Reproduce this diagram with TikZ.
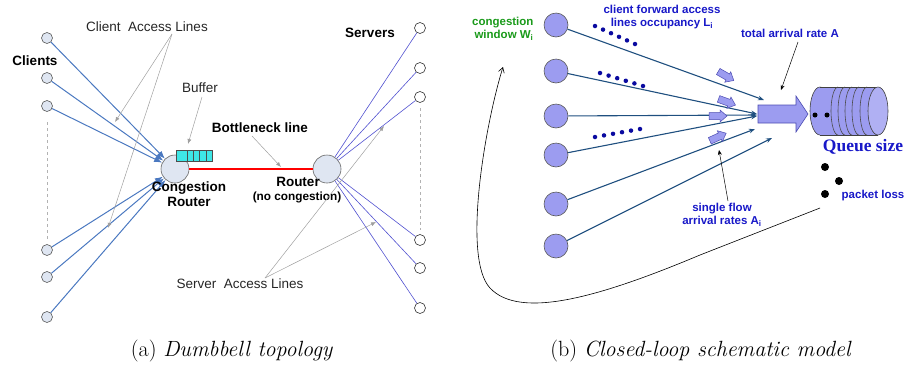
\documentclass[tikz,border=0pt]{standalone}
\usepackage{fontspec}
\newfontfamily\arialf{Liberation Sans}
\newfontfamily\timesf{Liberation Serif}
\usetikzlibrary{arrows.meta}
\definecolor{nodefill}{HTML}{DFE6F2}
\definecolor{clinecol}{HTML}{4A78C0}
\definecolor{slinecol}{HTML}{5050D0}
\definecolor{flinecol}{HTML}{1F4F7F}
\definecolor{lblue}{HTML}{1818C8}
\definecolor{lgreen}{HTML}{1A9A1A}
\definecolor{dotblue}{HTML}{0A0AA0}
\definecolor{pcl}{HTML}{9C9CF0}
\definecolor{bufcyan}{HTML}{3EE6E6}
\tikzset{
  cl/.style={circle, draw=black!65, fill=nodefill, minimum size=11pt, inner sep=0pt, line width=0.6pt},
  sv/.style={circle, draw=black!80, fill=white, minimum size=11pt, inner sep=0pt, line width=0.6pt},
  router/.style={circle, draw=black!60, fill=nodefill, minimum size=28pt, inner sep=0pt, line width=0.6pt},
  lbl/.style={font=\arialf\fontsize{13.5}{15}\selectfont, text=black!85},
  blbl/.style={font=\arialf\bfseries\fontsize{13.5}{15.5}\selectfont, align=center},
  ptr/.style={draw=gray!75, line width=0.5pt, -{Latex[length=5pt,width=4pt]}},
  cline/.style={draw=clinecol, line width=1pt, -{Latex[length=8pt,width=6pt]}},
  sline/.style={draw=slinecol, line width=0.6pt},
  rnode/.style={circle, draw=gray!70!black, fill=pcl, minimum size=24pt, inner sep=0pt, line width=0.6pt},
  fline/.style={draw=flinecol, line width=1.1pt, -{Stealth[length=6pt,width=4.5pt]}},
  rl/.style={font=\arialf\bfseries\fontsize{11.5}{13}\selectfont, text=lblue, align=center},
  bdot/.style={circle, fill=dotblue, inner sep=0pt, minimum size=4.5pt},
  kdot/.style={circle, fill=black, inner sep=0pt, minimum size=8pt},
  smallarr/.pic={\filldraw[fill=pcl, draw=gray!60!blue, line width=0.5pt] (-9,-3.5)--(2,-3.5)--(2,-6)--(9,0)--(2,6)--(2,3.5)--(-9,3.5)--cycle;}
}
\begin{document}
\begin{tikzpicture}[x=1pt,y=-1pt]
\useasboundingbox (0,0) rectangle (907,365);
% ---------------- left panel ----------------
\node[cl] (c1) at (47,38) {};
\node[cl] (c2) at (47,78) {};
\node[cl] (c3) at (47,106) {};
\node[cl] (c4) at (47,250) {};
\node[cl] (c5) at (47,277) {};
\node[cl] (c6) at (47,317) {};
\draw[gray!60, dashed, line width=0.6pt] (47,122) coordinate (d1) -- (47,240) coordinate (d2);
\node[router] (cr) at (175,169) {};
\node[router] (r2) at (327,169) {};
\draw[red, line width=1.6pt] (cr.east) -- (r2.west);
\foreach \c in {c1,c2,c3,c4,c5,c6} \draw[cline] (\c) -- (cr);
\node[sv] (s1) at (420,28) {};
\node[sv] (s2) at (420,68) {};
\node[sv] (s3) at (420,97) {};
\node[sv] (s4) at (420,240) {};
\node[sv] (s5) at (420,268) {};
\node[sv] (s6) at (420,308) {};
\draw[gray!60, dashed, line width=0.6pt] (420,108) coordinate (d3) -- (420,230) coordinate (d4);
\foreach \s in {s1,s2,s3,s4,s5,s6} \draw[sline] (r2) -- (\s);
% buffer
\draw[fill=bufcyan, draw=black!70, line width=0.6pt] (176,150) rectangle (212,161);
\foreach \x in {187,193.5,199.5,206} \draw[black!70, line width=0.6pt] (\x,150) -- (\x,161);
% labels
\node[blbl] (lclients) at (35,61) {Clients};
\node[lbl] (lcal) at (147,27) {Client\ \ Access Lines};
\coordinate (pcal) at (172,34);
\coordinate (pcal1) at (115,122);
\coordinate (pcal2) at (108,228);
\draw[ptr] (pcal) -- (pcal1);
\draw[ptr] (pcal) -- (pcal2);
\node[lbl] (lbuf) at (200,88) {Buffer};
\coordinate (pbuf) at (188,144);
\draw[ptr] (202,97) -- (pbuf);
\node[blbl] (lbn) at (260,128) {Bottleneck line};
\coordinate (pbn) at (281,167);
\draw[ptr] (252,136) -- (pbn);
\node[blbl] (lcr) at (189,194) {Congestion\\[-1pt]Router};
\node[blbl] (lr2) at (298,182) {Router};
\node[font=\arialf\bfseries\fontsize{11.8}{13}\selectfont] (lnc) at (297,197) {(no congestion)};
\node[blbl] (lserv) at (370,33) {Servers};
\node[lbl] (lsal) at (240,284) {Server\ \ Access Lines};
\coordinate (psal) at (265,278);
\coordinate (psal1) at (384,126);
\coordinate (psal2) at (376,222);
\draw[ptr] (psal) -- (psal1);
\draw[ptr] (psal) -- (psal2);
% ---------------- right panel ----------------
\node[rnode] (f1) at (556,25) {};
\node[rnode] (f2) at (556,71) {};
\node[rnode] (f3) at (556,116) {};
\node[rnode] (f4) at (556,155) {};
\node[rnode] (f5) at (556,204) {};
\node[rnode] (f6) at (556,246) {};
\coordinate (e1) at (764,100);
\coordinate (e2) at (757,114);
\coordinate (e3) at (757,115);
\coordinate (e4) at (757,116);
\coordinate (e5) at (755,129);
\coordinate (e6) at (772,138);
\foreach \i in {1,...,6} \draw[fline] (f\i) -- (e\i);
% small block arrows
\pic[rotate=-30] at (726,76) {smallarr};
\pic[rotate=-20] at (727,102) {smallarr};
\pic at (718,116) {smallarr};
\pic[rotate=25] at (718,137) {smallarr};
% big arrow
\filldraw[fill=pcl, draw=gray!60!blue, line width=0.6pt] (758,105) -- (796,105) -- (796,96) -- (808,114) -- (796,132) -- (796,123) -- (758,123) -- cycle;
% cylinder queue
\filldraw[fill=pcl, draw=gray!50!black, line width=0.6pt] (820,111) ellipse [x radius=10, y radius=24];
\fill[pcl] (820,87.3) rectangle (878,134.7);
\draw[gray!50!black, line width=0.6pt] (820,87) -- (878,87) (820,135) -- (878,135);
\foreach \cx in {838,845,852,859,867} \draw[black!70, line width=0.6pt] (\cx,135) arc[start angle=90, end angle=270, x radius=7, y radius=24];
\filldraw[fill=pcl!80!white, draw=gray!50!black, line width=0.6pt] (878,111) ellipse [x radius=10, y radius=24];
\node[circle, fill=black, inner sep=0pt, minimum size=5pt] (q1) at (815,115) {};
\node[circle, fill=black, inner sep=0pt, minimum size=5pt] (q2) at (827,115) {};
\node[font=\timesf\bfseries\fontsize{17.5}{19}\selectfont, text=lblue] (lq) at (863,147) {Queue size};
% loss dots
\node[kdot] (k1) at (825,167) {};
\node[kdot] (k2) at (839,181) {};
\node[kdot] (k3) at (825,194) {};
\node[rl] (lloss) at (873,196) {packet loss};
% blue dots rows
\foreach \t in {0,...,5} {
  \node[bdot] at ({595+\t*8},{26+\t*3.6}) {};
  \node[bdot] at ({600+\t*8.6},{73+\t*2.6}) {};
  \node[bdot] at ({595+\t*9},{137-\t*1.6}) {};
}
% labels
\node[rl] (lcf) at (662,17.5) {client forward access\\lines occupancy L\textsubscript{i}};
\node[rl] (ltar) at (790,33) {total arrival rate A};
\coordinate (ptar) at (781,90);
\draw[black, line width=0.5pt, -{Stealth[length=5pt,width=4pt]}] (798,42) -- (ptar);
\node[rl] (lsf) at (722,215) {single flow\\arrival rates A\textsubscript{i}};
\coordinate (psf) at (719,150);
\draw[black, line width=0.5pt, -{Stealth[length=5pt,width=4pt]}] (728,201) -- (psf);
\node[font=\arialf\bfseries\fontsize{11.5}{13}\selectfont, text=lgreen, align=right, anchor=east] (lcw) at (537,28.5) {congestion\\window W\textsubscript{i}};
% feedback loop
\coordinate (fbs) at (820,208);
\coordinate (fbe) at (503,67);
\draw[black, line width=0.6pt, -{Straight Barb[length=5pt,width=6pt]}] (fbs) -- (700,255) .. controls (600,297) and (520,320) .. (490,288) .. controls (462,258) and (485,125) .. (fbe);
% ---------------- captions ----------------
\node[font=\fontsize{22}{26}\selectfont] (capa) at (232,351) {(a) \textit{Dumbbell topology}};
\node[font=\fontsize{22}{26}\selectfont] (capb) at (701,351) {(b) \textit{Closed-loop schematic model}};
\end{tikzpicture}
\end{document}
